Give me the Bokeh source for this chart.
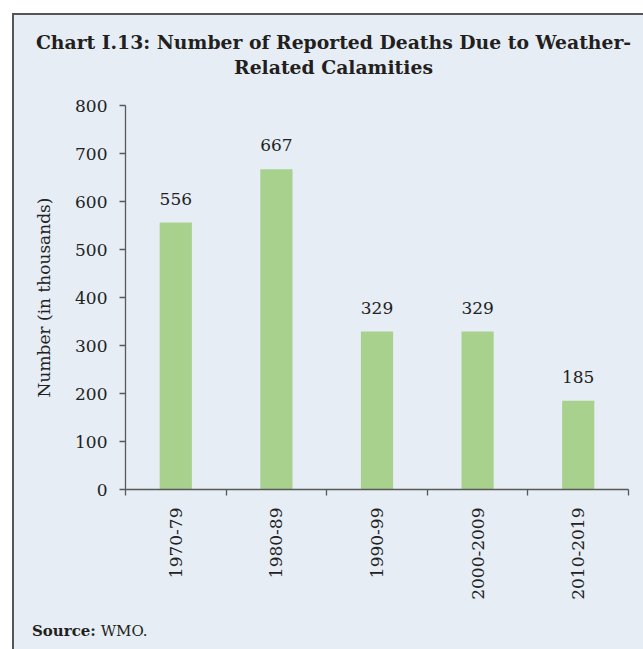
import numpy as np
from bokeh.plotting import figure
from bokeh.layouts import column
from bokeh.models import Range1d, FixedTicker, ColumnDataSource, Div
from bokeh.core.properties import value
from bokeh.embed import file_html
from bokeh.resources import INLINE

categories = ["1970-79", "1980-89", "1990-99", "2000-2009", "2010-2019"]
deaths = [556, 667, 329, 329, 185]
y_ticks = [0, 100, 200, 300, 400, 500, 600, 700, 800]
title_lines = ["Chart I.13: Number of Reported Deaths Due to Weather-", "Related Calamities"]
source_label = "Source:"
source_text = "WMO."

BG = "#e6edf4"
AXIS = "#595959"
TXT = "#231f20"
FONT = "DejaVu Serif"
W = 629

xpos = np.arange(len(categories)) + 0.5
src = ColumnDataSource(dict(x=xpos, y=deaths, lab=[str(v) for v in deaths]))

p = figure(width=W, height=520, output_backend="svg", toolbar_location=None,
           x_range=Range1d(0, len(categories)), y_range=Range1d(0, 800),
           min_border_left=111, min_border_right=15, min_border_top=15, min_border_bottom=121)
p.background_fill_color = BG
p.border_fill_color = BG
p.outline_line_color = None
p.grid.grid_line_color = None

p.vbar(x="x", top="y", width=0.32, source=src, fill_color="#a9d18e", line_color=None)
p.text(x="x", y="y", text="lab", source=src, text_align="center", text_baseline="alphabetic",
       y_offset=-24, text_font=value(FONT), text_font_size="17px", text_color="#222222")

# x axis: labels at category centres, tick marks between categories
xa = p.xaxis[0]
xa.ticker = FixedTicker(ticks=list(xpos), minor_ticks=list(range(len(categories) + 1)))
xa.major_label_overrides = {float(x): c for x, c in zip(xpos, categories)}
xa.major_label_orientation = np.pi / 2
xa.major_tick_out = 0
xa.major_tick_in = 0
xa.minor_tick_out = 6
xa.minor_tick_in = 0
xa.minor_tick_line_color = AXIS
xa.axis_line_color = AXIS
xa.axis_line_width = 1.3
xa.minor_tick_line_width = 1.3
xa.major_label_standoff = 12
xa.major_label_text_font = FONT
xa.major_label_text_font_size = "17px"
xa.major_label_text_color = "#222222"

# y axis
ya = p.yaxis[0]
ya.ticker = FixedTicker(ticks=y_ticks, minor_ticks=[])
ya.major_tick_out = 6
ya.major_tick_in = 0
ya.major_tick_line_color = AXIS
ya.major_tick_line_width = 1.3
ya.axis_line_color = AXIS
ya.axis_line_width = 1.3
ya.major_label_standoff = 12
ya.major_label_text_font = FONT
ya.major_label_text_font_size = "17px"
ya.major_label_text_color = "#222222"
ya.axis_label = "Number (in thousands)"
ya.axis_label_text_font = FONT
ya.axis_label_text_font_size = "17px"
ya.axis_label_text_font_style = "normal"
ya.axis_label_text_color = "#222222"
ya.axis_label_standoff = 18

title_div = Div(
    text=(f'<div style="font-family:\'{FONT}\';font-weight:bold;font-size:18.8px;line-height:25px;'
          f'color:{TXT};text-align:center;white-space:nowrap;position:relative;left:5px;'
          f'padding-top:15px;width:{W}px">' + "<br>".join(title_lines) + '</div>'),
    width=W, height=75, margin=0, styles={"background-color": BG})

source_div = Div(
    text=(f'<div style="font-family:\'{FONT}\';font-size:15px;line-height:23px;color:{TXT};'
          f'padding-left:18px;padding-top:10px;white-space:nowrap">'
          f'<b>{source_label}</b> {source_text}</div>'),
    width=W, height=39, margin=0, styles={"background-color": BG})

layout = column(title_div, p, source_div, spacing=0,
                styles={"margin-left": "12px", "margin-top": "13px",
                        "border-top": "2px solid #555555", "border-left": "2px solid #555555",
                        "background-color": BG})

open("out.html", "w").write(file_html(layout, INLINE))
